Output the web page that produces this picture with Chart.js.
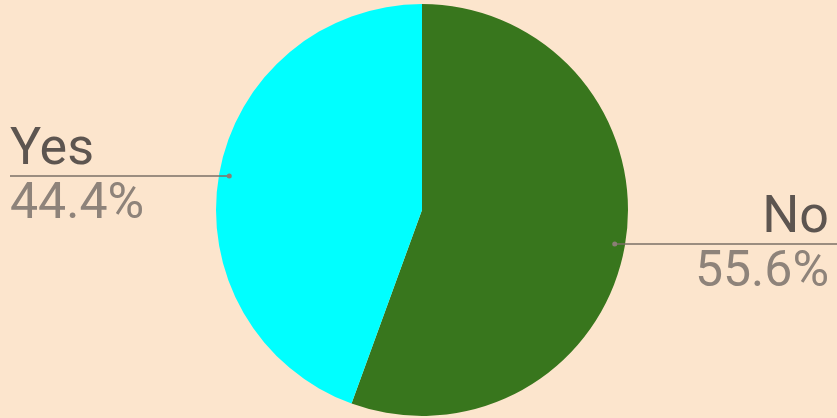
<!DOCTYPE html>
<html>
<head>
<meta charset="utf-8">
<script src="https://cdn.jsdelivr.net/npm/chart.js@4"></script>
<style>
  html, body { margin: 0; padding: 0; background: #fce5cd; }
  #wrap { width: 837px; height: 418px; }
</style>
</head>
<body>
<div id="wrap"><canvas id="pieChart"></canvas></div>
<script>
    // answers (counts) -> 5/9 and 4/9
    let labels = ['No', 'Yes'];
    let counts = [5, 4];
    let colors = ['#38761d', '#00ffff'];

    // draws the "name / line / percent" callouts next to each slice
    let calloutPlugin = {
    id: 'callouts',
    afterDraw(chart) {
        let ctx = chart.ctx;
        let meta = chart.getDatasetMeta(0);
        let total = counts.reduce((a, b) => a + b, 0);
        meta.data.forEach((arc, i) => {
            let p = arc.getProps(['x', 'y', 'startAngle', 'endAngle', 'outerRadius'], true);
            let mid = (p.startAngle + p.endAngle) / 2;
            let dx = p.x + Math.cos(mid) * p.outerRadius * 0.95;
            let dy = p.y + Math.sin(mid) * p.outerRadius * 0.95;
            let left = Math.cos(mid) < 0;
            let lineEnd = left ? 10 : chart.width;
            let textX = left ? 10 : chart.width - 8;
            let pct = (counts[i] / total * 100).toFixed(1) + '%';

            ctx.save();
            ctx.strokeStyle = '#7b6f66';
            ctx.lineWidth = 1.5;
            ctx.beginPath();
            ctx.moveTo(dx, dy);
            ctx.lineTo(lineEnd, dy);
            ctx.stroke();
            ctx.fillStyle = '#8a7e75';
            ctx.beginPath();
            ctx.arc(dx, dy, 2.5, 0, Math.PI * 2);
            ctx.fill();

            ctx.textAlign = left ? 'left' : 'right';
            ctx.textBaseline = 'alphabetic';
            ctx.font = '52px Roboto';
            ctx.fillStyle = '#5d5550';
            ctx.fillText(labels[i], textX, dy - 12);
            ctx.font = '50px Roboto';
            ctx.fillStyle = '#8e837a';
            ctx.fillText(pct, textX, dy + 42);
            ctx.restore();
        });
    }
    };

    let pieChart = document.getElementById('pieChart').getContext('2d');

    let newPieChart = new Chart(pieChart, {
    type: 'pie',
    data: {
    labels: labels,
    datasets: [{
    data: counts,
    backgroundColor: colors,
    borderWidth: 0
    }]
    },
    options: {
    responsive: true,
    maintainAspectRatio: false,
    animation: false,
    layout: { padding: { top: 4, bottom: 2, left: 7, right: 0 } },
    plugins: {
        legend: { display: false },
        tooltip: { enabled: false }
    }
    },
    plugins: [calloutPlugin]
    });
</script>
</body>
</html>
